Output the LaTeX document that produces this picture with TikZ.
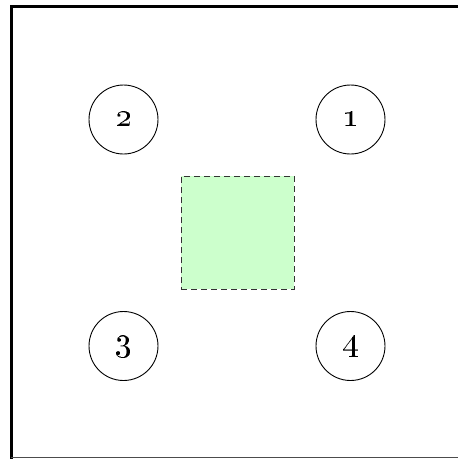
\documentclass[tikz,border=0pt]{standalone}
\usepackage{graphicx}
\newcommand{\bignum}[1]{\scalebox{3.3}{\oldstylenums{#1}}}
\begin{document}
\begin{tikzpicture}[x=1pt,y=-1pt,
  numcirc/.style={circle,draw=black,line width=0.9pt,minimum size=69pt,inner sep=0pt},
  frameline/.style={line width=3pt,black}]
\useasboundingbox (0,0) rectangle (458,459);
\coordinate (tl) at (11,6);
\coordinate (tr) at (458,6);
\coordinate (bl) at (11,459);
\draw[frameline] (tr) -- (tl) -- (bl);
\coordinate (bl2) at (11,457.5);
\coordinate (br2) at (458,457.5);
\draw[line width=1pt,black!70] (bl2) -- (br2);
\node[numcirc] (n1) at (350.5,119.5) {\bignum{1}};
\node[numcirc] (n2) at (123.5,119.5) {\bignum{2}};
\node[numcirc] (n3) at (123.5,346) {\bignum{3}};
\node[numcirc] (n4) at (350.5,346) {\bignum{4}};
\node[draw=black!80,fill={rgb,255:red,204;green,255;blue,204},dash pattern=on 6pt off 4pt,line width=1pt,minimum size=113pt,inner sep=0pt] (sq) at (237.5,232.7) {};
\end{tikzpicture}
\end{document}
